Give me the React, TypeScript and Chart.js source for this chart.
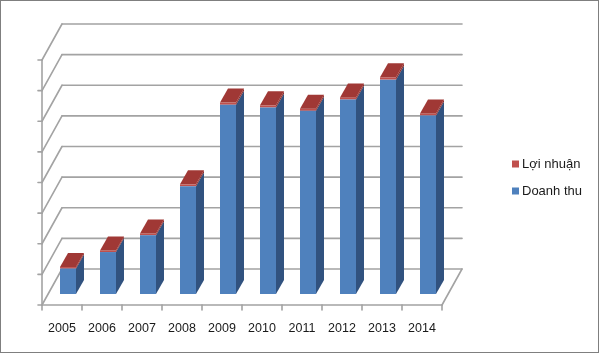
import React, { useEffect, useRef } from "react";
import { Chart, registerables } from "chart.js";

Chart.register(...registerables);

const years = ["2005", "2006", "2007", "2008", "2009", "2010", "2011", "2012", "2013", "2014"];
const doanhThu = [830, 1370, 1920, 3520, 6180, 6090, 5980, 6350, 7000, 5830];
const loiNhuan = [50, 50, 55, 60, 70, 70, 70, 70, 75, 65];
const yMin = 0;
const yMax = 8000;
const yStep = 1000;

const BLUE = "#4F81BD";
const BLUE_SIDE = "#31527F";
const RED = "#C0504D";
const RED_SIDE = "#8C2F2D";
const RED_TOP = "#A03835";
const GRID = "#a3a3a3";

// oblique depth offsets relative to the bar front plane
const BACK_X = 14, BACK_Y = -25;   // back wall
const FRONT_X = -6, FRONT_Y = 11;  // front edge of floor
const BAR_DX = 8, BAR_DY = -14;    // bar depth

const line = (ctx: CanvasRenderingContext2D, x1: number, y1: number, x2: number, y2: number) => {
  ctx.beginPath();
  ctx.moveTo(x1, y1);
  ctx.lineTo(x2, y2);
  ctx.stroke();
};

const poly = (ctx: CanvasRenderingContext2D, pts: number[][], color: string) => {
  ctx.beginPath();
  ctx.moveTo(pts[0][0], pts[0][1]);
  for (let i = 1; i < pts.length; i++) ctx.lineTo(pts[i][0], pts[i][1]);
  ctx.closePath();
  ctx.fillStyle = color;
  ctx.fill();
};

const threeD = {
  id: "threeD",
  beforeDatasetsDraw(chart: any) {
    const { ctx, chartArea: a, scales } = chart;
    const x = scales.x, y = scales.y;
    const n = chart.data.labels.length;
    const catW = (a.right - a.left) / n;
    const vals: number[] = y.ticks && y.ticks.length ? y.ticks.map((t: any) => t.value) : [];
    if (!vals.length) for (let v = yMin; v <= yMax; v += yStep) vals.push(v);
    const y0 = y.getPixelForValue(yMin);
    const yTop = y.getPixelForValue(yMax);
    ctx.save();
    ctx.strokeStyle = GRID;
    ctx.lineWidth = 1.6;
    ctx.lineCap = "round";
    for (const v of vals) {
      const py = y.getPixelForValue(v);
      line(ctx, a.left + BACK_X, py + BACK_Y, a.right + BACK_X, py + BACK_Y);
      line(ctx, a.left + BACK_X, py + BACK_Y, a.left + FRONT_X, py + FRONT_Y);
      line(ctx, a.left + FRONT_X - 4, py + FRONT_Y, a.left + FRONT_X, py + FRONT_Y);
    }
    line(ctx, a.left + FRONT_X, yTop + FRONT_Y, a.left + FRONT_X, y0 + FRONT_Y);
    line(ctx, a.right + BACK_X, y0 + BACK_Y, a.right + FRONT_X, y0 + FRONT_Y);
    line(ctx, a.left + FRONT_X, y0 + FRONT_Y, a.right + FRONT_X, y0 + FRONT_Y);
    for (let i = 0; i <= n; i++) {
      const xx = a.left + FRONT_X + i * catW;
      line(ctx, xx, y0 + FRONT_Y, xx, y0 + FRONT_Y + 5);
    }
    ctx.restore();
  },
  afterDatasetsDraw(chart: any) {
    const { ctx } = chart;
    const count = chart.data.datasets.length;
    ctx.save();
    for (let d = 0; d < count; d++) {
      const meta = chart.getDatasetMeta(d);
      const side = d === count - 1 ? RED_SIDE : BLUE_SIDE;
      meta.data.forEach((el: any) => {
        const p = el.getProps(["x", "y", "base", "width"], true);
        const l = p.x - p.width / 2, r = p.x + p.width / 2;
        const top = Math.min(p.y, p.base), bot = Math.max(p.y, p.base);
        poly(ctx, [[r, top], [r + BAR_DX, top + BAR_DY], [r + BAR_DX, bot + BAR_DY], [r, bot]], side);
        if (d === count - 1) {
          poly(ctx, [[l, top], [r, top], [r + BAR_DX, top + BAR_DY], [l + BAR_DX, top + BAR_DY]], RED_TOP);
        }
      });
    }
    ctx.restore();
  },
  afterDraw(chart: any) {
    const { ctx, chartArea: a, scales } = chart;
    const x = scales.x, y = scales.y;
    const y0 = y.getPixelForValue(yMin);
    ctx.save();
    // category labels
    ctx.fillStyle = "#1a1a1a";
    ctx.font = '12.5px "Liberation Sans", Arial, sans-serif';
    ctx.textAlign = "center";
    ctx.textBaseline = "middle";
    chart.data.labels.forEach((lab: string, i: number) => {
      ctx.fillText(lab, x.getPixelForValue(i) + FRONT_X, y0 + 35);
    });
    // legend (reverse order)
    ctx.font = '13px "Liberation Sans", Arial, sans-serif';
    ctx.textAlign = "left";
    const ds = chart.data.datasets.slice().reverse();
    ds.forEach((dset: any, i: number) => {
      const cy = 164 + i * 27;
      ctx.fillStyle = dset.backgroundColor;
      ctx.fillRect(512, cy - 3.5, 7, 7);
      ctx.fillStyle = "#1a1a1a";
      ctx.fillText(dset.label, 522, cy + 0.5);
    });
    // frame
    ctx.strokeStyle = "#7f7f7f";
    ctx.lineWidth = 1;
    ctx.strokeRect(0.5, 0.5, 598, 352);
    ctx.restore();
  },
};

export default function App() {
  const ref = useRef<HTMLCanvasElement>(null);
  useEffect(() => {
    if (!ref.current) return;
    const chart = new Chart(ref.current, {
      type: "bar",
      data: {
        labels: years,
        datasets: [
          { label: "Doanh thu", data: doanhThu, backgroundColor: BLUE, borderWidth: 0, categoryPercentage: 0.4, barPercentage: 1, stack: "s" },
          { label: "Lợi nhuận", data: loiNhuan, backgroundColor: RED, borderWidth: 0, categoryPercentage: 0.4, barPercentage: 1, stack: "s" },
        ],
      },
      options: {
        responsive: false,
        animation: false,
        devicePixelRatio: 1,
        layout: { padding: { left: 48, right: 152, top: 49, bottom: 60 } },
        plugins: { legend: { display: false }, tooltip: { enabled: false } },
        scales: {
          x: { type: "category", stacked: true, display: false, offset: true },
          y: { type: "linear", stacked: true, display: false, min: yMin, max: yMax, ticks: { stepSize: yStep } },
        },
      },
      plugins: [threeD],
    } as any);
    return () => chart.destroy();
  }, []);
  return (
    <div style={{ position: "fixed", left: 0, top: 0, width: 600, height: 354, background: "#fff" }}>
      <canvas ref={ref} width={600} height={354} style={{ display: "block", width: 600, height: 354 }} />
    </div>
  );
}
